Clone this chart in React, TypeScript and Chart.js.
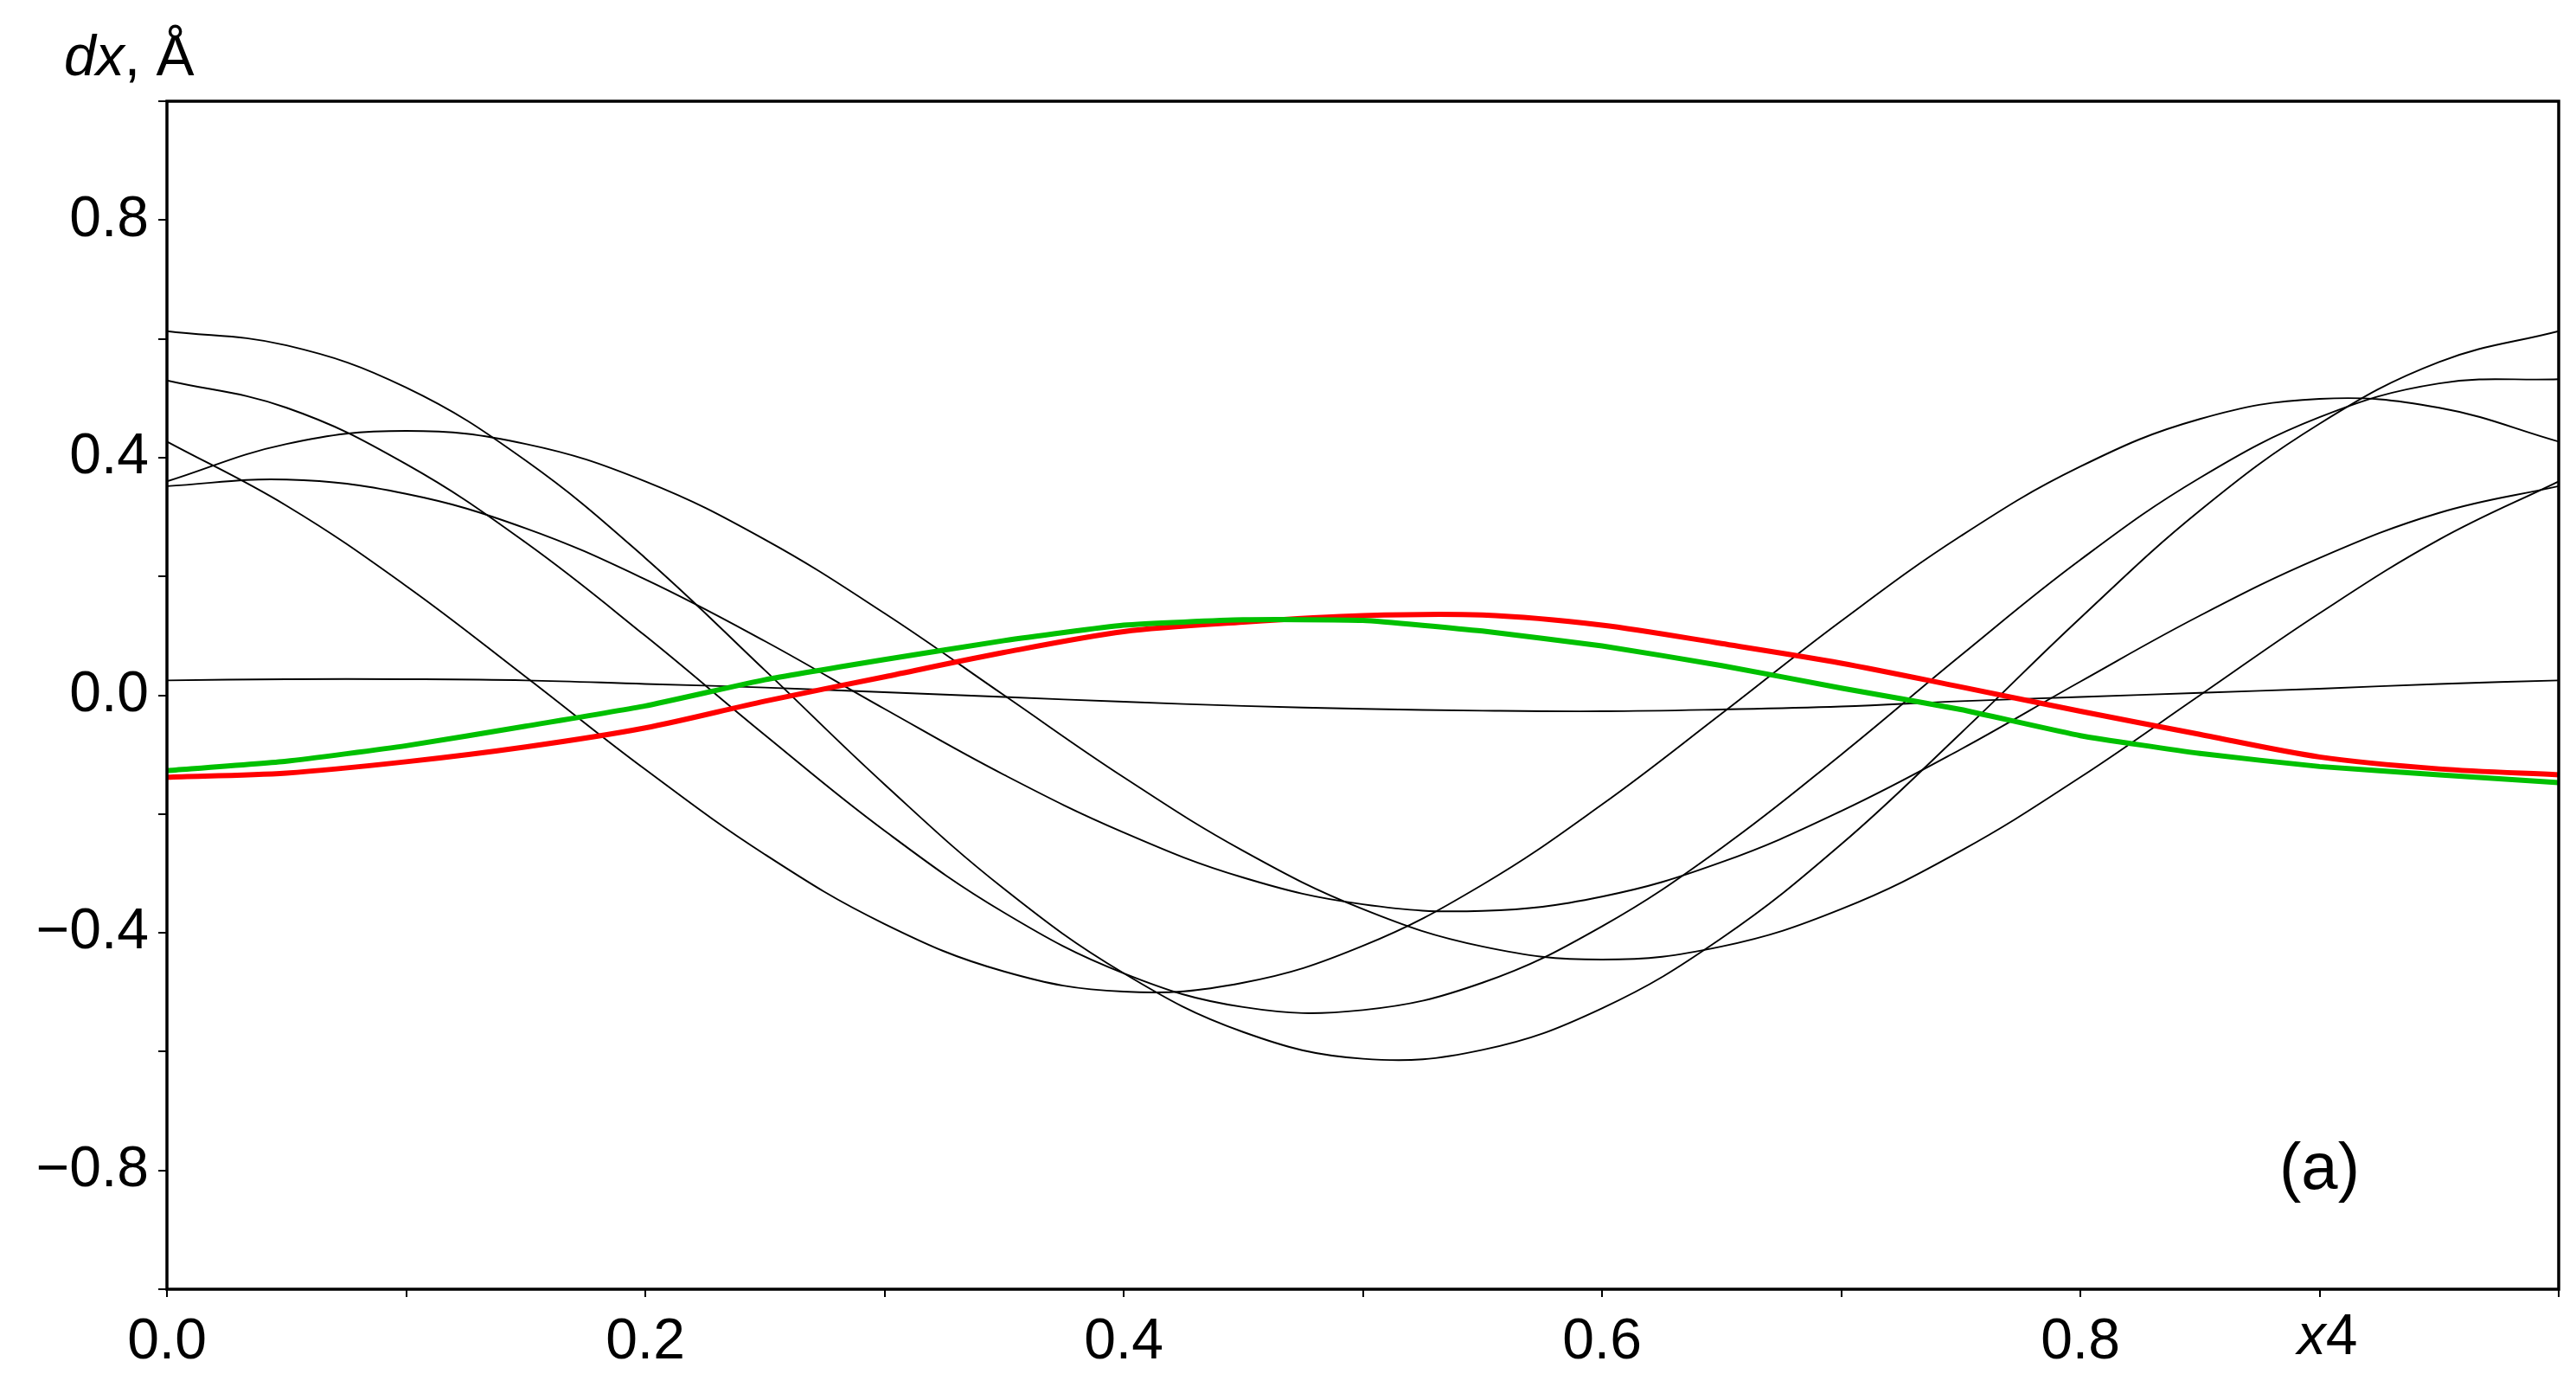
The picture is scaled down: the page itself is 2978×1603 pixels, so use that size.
import React, { useEffect, useRef } from 'react';
import { Chart, registerables } from 'chart.js';

Chart.register(...registerables);

// x positions (fraction of the period, "x4")
const X_VALUES = [0.0, 0.05, 0.1, 0.15, 0.2, 0.25, 0.3, 0.35, 0.4, 0.45, 0.5, 0.55, 0.6, 0.65, 0.7, 0.75, 0.8, 0.85, 0.9, 0.95, 1.0];

// thin black curves
const CURVE_A = [0.613, 0.589, 0.518, 0.395, 0.231, 0.042, -0.150, -0.326, -0.468, -0.567, -0.612, -0.597, -0.527, -0.409, -0.251, -0.064, 0.130, 0.311, 0.457, 0.561, 0.613];
const CURVE_B = [0.530, 0.484, 0.389, 0.257, 0.100, -0.067, -0.228, -0.366, -0.468, -0.525, -0.530, -0.484, -0.389, -0.257, -0.100, 0.067, 0.228, 0.366, 0.468, 0.525, 0.532];
const CURVE_C = [0.427, 0.319, 0.184, 0.031, -0.125, -0.268, -0.385, -0.465, -0.499, -0.484, -0.422, -0.319, -0.184, -0.031, 0.125, 0.268, 0.385, 0.465, 0.499, 0.484, 0.427];
const CURVE_D = [0.360, 0.423, 0.445, 0.423, 0.360, 0.262, 0.138, 0.000, -0.138, -0.262, -0.360, -0.423, -0.445, -0.423, -0.360, -0.262, -0.138, 0.000, 0.138, 0.262, 0.360];
const CURVE_E = [0.352, 0.363, 0.339, 0.281, 0.195, 0.091, -0.023, -0.134, -0.231, -0.307, -0.352, -0.363, -0.339, -0.281, -0.195, -0.091, 0.023, 0.134, 0.231, 0.307, 0.352];
const CURVE_F = [0.025, 0.027, 0.027, 0.025, 0.019, 0.013, 0.005, -0.003, -0.011, -0.018, -0.023, -0.026, -0.027, -0.024, -0.019, -0.010, -0.003, 0.004, 0.011, 0.019, 0.025];

// thick coloured curves
const RED_CURVE = [-0.138, -0.131, -0.112, -0.087, -0.055, -0.010, 0.031, 0.072, 0.107, 0.123, 0.134, 0.135, 0.118, 0.087, 0.054, 0.014, -0.027, -0.066, -0.104, -0.124, -0.134];
const GREEN_CURVE = [-0.127, -0.111, -0.085, -0.052, -0.018, 0.026, 0.060, 0.092, 0.118, 0.127, 0.126, 0.108, 0.083, 0.050, 0.012, -0.024, -0.068, -0.098, -0.120, -0.134, -0.147];

const BLACK_CURVES = [CURVE_A, CURVE_B, CURVE_C, CURVE_D, CURVE_E, CURVE_F];

const Y_LABELED = [-0.8, -0.4, 0.0, 0.4, 0.8];
const X_LABELED = [0.0, 0.2, 0.4, 0.6, 0.8];
const X_TITLE_AT = 0.9;
const X_TITLE_ITALIC = 'x';
const X_TITLE_REST = '4';
const Y_TITLE_ITALIC = 'dx';
const Y_TITLE_REST = ', Å';
const PANEL_LABEL = '(a)';

const FONT = '"Liberation Sans", Arial, sans-serif';

const near = (v: number, arr: number[]) => arr.some((a) => Math.abs(a - v) < 1e-6);
const fmt = (v: number) => (v < -1e-9 ? '\u2212' : '') + Math.abs(v).toFixed(1);

const toPoints = (ys: number[]) => X_VALUES.map((x, i) => ({ x, y: ys[i] }));

const decorations = {
  id: 'decorations',
  afterDraw(chart: any) {
    const { ctx, chartArea, scales } = chart;
    ctx.save();
    // frame
    ctx.strokeStyle = '#000';
    ctx.lineWidth = 3.5;
    ctx.strokeRect(chartArea.left, chartArea.top, chartArea.right - chartArea.left, chartArea.bottom - chartArea.top);

    ctx.fillStyle = '#000';
    ctx.textAlign = 'left';
    ctx.textBaseline = 'alphabetic';

    // y title: dx, Å
    ctx.font = `italic 66px ${FONT}`;
    ctx.fillText(Y_TITLE_ITALIC, 74, 87);
    const w1 = ctx.measureText(Y_TITLE_ITALIC).width;
    ctx.font = `66px ${FONT}`;
    ctx.fillText(Y_TITLE_REST, 74 + w1, 87);

    // x title: x4 at tick 0.9
    const xp = scales.x.getPixelForValue(X_TITLE_AT);
    ctx.font = `italic 66px ${FONT}`;
    const wx = ctx.measureText(X_TITLE_ITALIC).width;
    ctx.font = `66px ${FONT}`;
    const w4 = ctx.measureText(X_TITLE_REST).width;
    const start = xp + 9 - (wx + w4) / 2;
    ctx.font = `italic 66px ${FONT}`;
    ctx.fillText(X_TITLE_ITALIC, start, 1565);
    ctx.font = `66px ${FONT}`;
    ctx.fillText(X_TITLE_REST, start + wx, 1565);

    // panel label
    ctx.font = `76px ${FONT}`;
    ctx.textAlign = 'center';
    ctx.fillText(PANEL_LABEL, scales.x.getPixelForValue(0.9), scales.y.getPixelForValue(-0.8) + 21);
    ctx.restore();
  },
};

export default function App() {
  const canvasRef = useRef<HTMLCanvasElement | null>(null);

  useEffect(() => {
    const canvas = canvasRef.current;
    if (!canvas) return;

    const blackSets = BLACK_CURVES.map((ys, i) => ({
      label: `curve ${i + 1}`,
      data: toPoints(ys),
      borderColor: '#000000',
      borderWidth: 1.9,
      pointRadius: 0,
      tension: 0.4,
      fill: false,
      order: 3,
    }));

    const chart = new Chart(canvas, {
      type: 'line',
      data: {
        datasets: [
          {
            label: 'green',
            data: toPoints(GREEN_CURVE),
            borderColor: '#00c000',
            borderWidth: 6,
            pointRadius: 0,
            tension: 0.15,
            fill: false,
            order: 1,
          },
          {
            label: 'red',
            data: toPoints(RED_CURVE),
            borderColor: '#ff0000',
            borderWidth: 6,
            pointRadius: 0,
            tension: 0.3,
            fill: false,
            order: 2,
          },
          ...blackSets,
        ],
      },
      options: {
        responsive: false,
        animation: false,
        devicePixelRatio: 1,
        layout: { padding: { left: 0, right: 20, top: 117, bottom: 0 } },
        plugins: {
          legend: { display: false },
          tooltip: { enabled: false },
          title: { display: false },
        },
        scales: {
          x: {
            type: 'linear',
            min: 0,
            max: 1,
            afterFit: (scale: any) => {
              scale.height = 113;
            },
            border: { display: false },
            grid: {
              display: true,
              drawOnChartArea: false,
              drawTicks: true,
              tickLength: 9,
              color: '#000',
              lineWidth: 2,
            },
            ticks: {
              stepSize: 0.1,
              autoSkip: false,
              maxRotation: 0,
              padding: 13,
              color: '#000',
              font: { family: FONT, size: 66 },
              callback: (value: any) => {
                const v = Number(value);
                return near(v, X_LABELED) ? fmt(v) : '';
              },
            },
          },
          y: {
            type: 'linear',
            min: -1,
            max: 1,
            afterFit: (scale: any) => {
              scale.width = 193;
            },
            border: { display: false },
            grid: {
              display: true,
              drawOnChartArea: false,
              drawTicks: true,
              tickLength: 10,
              color: '#000',
              lineWidth: 2,
            },
            ticks: {
              stepSize: 0.2,
              autoSkip: false,
              padding: 11,
              color: '#000',
              font: { family: FONT, size: 66 },
              callback: (value: any) => {
                const v = Number(value);
                return near(v, Y_LABELED) ? fmt(v) : '';
              },
            },
          },
        },
      },
      plugins: [decorations],
    });

    return () => {
      chart.destroy();
    };
  }, []);

  return (
    <div style={{ position: 'fixed', left: 0, top: 0, width: 2978, height: 1603, background: '#fff' }}>
      <canvas ref={canvasRef} width={2978} height={1603} style={{ display: 'block' }} />
    </div>
  );
}
